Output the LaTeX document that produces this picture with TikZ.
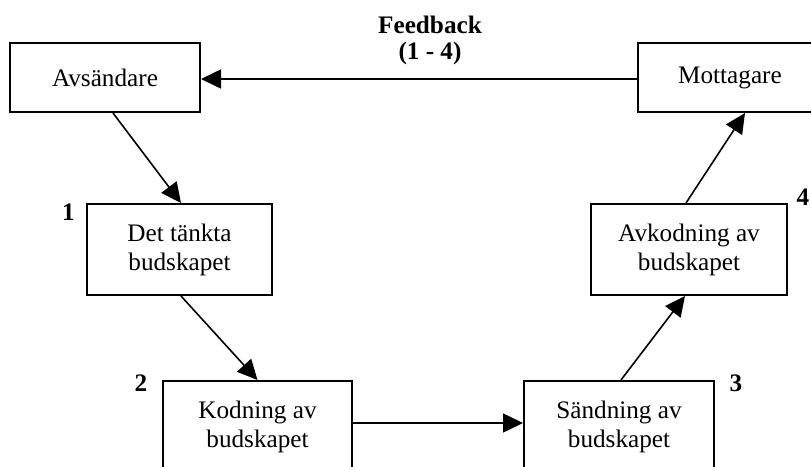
\documentclass[tikz,border=0pt]{standalone}
\usepackage{fontspec}
\setmainfont{Liberation Serif}
\usepackage{tikz}
\usetikzlibrary{arrows.meta, calc}
\tikzset{
  box/.style={rectangle, draw=black, inner sep=0pt, align=center,
    font=\fontsize{12.6}{14.5}\selectfont, line width=1pt},
  numlabel/.style={font=\fontsize{12.6}{14.5}\selectfont\bfseries, inner sep=0pt},
  arrow/.style={-{Triangle[length=10pt, width=9.5pt]}, line width=0.8pt}
}

\begin{document}
\begin{tikzpicture}[x=0.5pt, y=-0.5pt]
  \useasboundingbox (0,0) rectangle (811,467);
  \clip (0,0) rectangle (811,467);

  % Top row
  \node[box, minimum width=95pt, minimum height=34.5pt] (avs) at (105,77.5) {Avsändare};
  \node[box, minimum width=92pt, minimum height=34.5pt] (mott) at (730,77.5) {Mottagare};
  \node[font=\fontsize{12.6}{13}\selectfont\bfseries, align=center, inner sep=0pt] (fb) at (430,40) {Feedback\\(1 - 4)};

  % Middle row
  \node[box, minimum width=92.5pt, minimum height=45.5pt] (tankt) at (179.5,249.5) {Det tänkta\\budskapet};
  \node[box, minimum width=98pt, minimum height=45.5pt] (avkod) at (689,249.5) {Avkodning av\\budskapet};

  % Bottom row
  \node[box, minimum width=94.5pt, minimum height=45.5pt] (kod) at (257.5,426.5) {Kodning av\\budskapet};
  \node[box, minimum width=95pt, minimum height=45.5pt] (sand) at (619,426.5) {Sändning av\\budskapet};

  % Step numbers
  \node[numlabel] (n1) at (68.5,212.5) {1};
  \node[numlabel] (n2) at (141,383) {2};
  \node[numlabel] (n3) at (736,383) {3};
  \node[numlabel] (n4) at (803,197) {4};

  % Arrows
  \draw[arrow] ($(avs.south)+(8,0)$) -- ($(tankt.north)+(1.5,0)$);
  \draw[arrow] ($(tankt.south)+(1.5,0)$) -- (kod.north);
  \draw[arrow] ($(kod.east)+(0,-3.5)$) -- ($(sand.west)+(0,-3.5)$);
  \draw[arrow] ($(sand.north)+(2,0)$) -- ($(avkod.south)+(-4,0)$);
  \draw[arrow] ($(avkod.north)+(-3,0)$) -- ($(mott.south)+(15,0)$);
  \draw[arrow] ($(mott.west)+(0,1.5)$) -- ($(avs.east)+(0,1.5)$);
\end{tikzpicture}
\end{document}
